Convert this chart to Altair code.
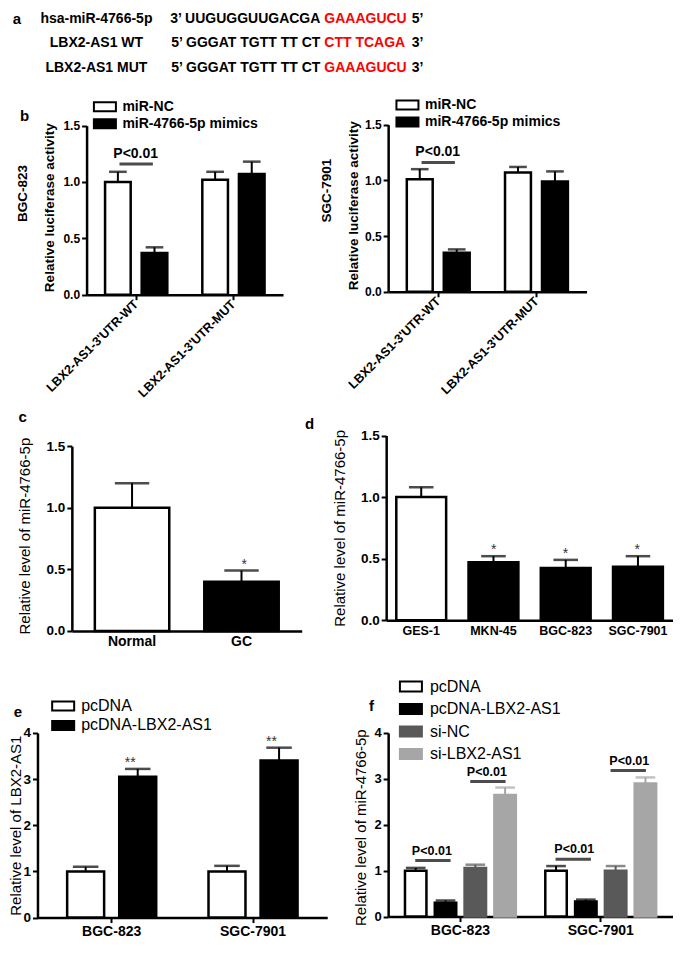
import altair as alt
import pandas as pd

FONT = "Liberation Sans"
W, H = 665, 938
SX = W / 677.0
SY = 928 / 955.0


def cx(px):
    return (px - 3) * SX


def cy(py):
    return (py - 2) * SY


# ---------------- data ----------------
a_names = ["hsa-miR-4766-5p", "LBX2-AS1  WT", "LBX2-AS1  MUT"]
a_black = ["3\u2019 UUGUGGUUGACGA", "5\u2019 GGGAT TGTT TT CT", "5\u2019 GGGAT TGTT TT CT"]
a_red = ["GAAAGUCU", "CTT TCAGA", "GAAAGUCU"]
a_end = ["5\u2019", "3\u2019", "3\u2019"]
a_rows = [0, 1, 2]

b_groups = ["LBX2-AS1-3'UTR-WT", "LBX2-AS1-3'UTR-MUT"]
b_conds = ["miR-NC", "miR-4766-5p mimics"]
b_bgc_mean = [1.00, 0.37, 1.02, 1.07]
b_bgc_sem = [0.09, 0.05, 0.07, 0.11]
b_sgc_mean = [1.01, 0.35, 1.07, 0.99]
b_sgc_sem = [0.09, 0.03, 0.05, 0.09]
b_sig_group = ["LBX2-AS1-3'UTR-WT"]
b_bgc_sig_y = [1.16]
b_sgc_sig_y = [1.16]
sig_text = "P<0.01"

c_cats = ["Normal", "GC"]
c_mean = [1.00, 0.40]
c_sem = [0.20, 0.09]
c_marks = ["", "*"]

d_cats = ["GES-1", "MKN-45", "BGC-823", "SGC-7901"]
d_mean = [1.00, 0.47, 0.425, 0.435]
d_sem = [0.08, 0.05, 0.065, 0.085]
d_marks = ["", "*", "*", "*"]

ef_groups = ["BGC-823", "SGC-7901"]
e_conds = ["pcDNA", "pcDNA-LBX2-AS1"]
e_mean = [1.00, 3.05, 1.00, 3.40]
e_sem = [0.10, 0.17, 0.12, 0.28]
e_marks = ["", "**", "", "**"]

f_conds = ["pcDNA", "pcDNA-LBX2-AS1", "si-NC", "si-LBX2-AS1"]
f_mean = [1.00, 0.30, 1.06, 2.65, 1.00, 0.33, 1.00, 2.90]
f_sem = [0.06, 0.05, 0.07, 0.16, 0.10, 0.04, 0.10, 0.13]
f_sig_left_y = [1.22, 1.25]
f_sig_right_y = [2.94, 3.18]


def grouped_df(groups, conds, mean, sem, marks=None):
    rows = []
    k = 0
    for g in groups:
        for c in conds:
            rows.append({"group": g, "cond": c, "mean": mean[k],
                         "upper": mean[k] + sem[k],
                         "mark": marks[k] if marks else ""})
            k += 1
    return pd.DataFrame(rows)


def simple_df(cats, mean, sem, marks):
    return pd.DataFrame({"cat": cats, "mean": mean,
                         "upper": [m + s for m, s in zip(mean, sem)],
                         "mark": marks})


def y_axis(axis_x, ticks, fmt, title, title_x, title_y, tfs, tfw, lfs):
    return alt.Axis(orient="left", offset=-cx(axis_x), values=ticks, format=fmt,
                    title=title, titleX=cx(title_x) - cx(axis_x), titleY=cy(title_y),
                    titleAngle=270, titleAlign="center", titleBaseline="middle",
                    titleFontSize=tfs, titleFontWeight=tfw, labelFontSize=lfs)


def x_axis(axis_y, lfs, ticks=True, angle=0, align="center", baseline="top", pad=3):
    return alt.Axis(orient="bottom", offset=cy(axis_y) - H, title=None, ticks=ticks,
                    labelAngle=angle, labelAlign=align, labelBaseline=baseline,
                    labelFontSize=lfs, labelPadding=pad)


def box_legend(lx, ly, half_w, half_h, size, lfs, lfw, loff, rpad):
    path = "M-%.3f,-%.3fH%.3fV%.3fH-%.3fZ" % (half_w, half_h, half_w, half_h, half_w)
    return alt.Legend(orient="none", legendX=cx(lx), legendY=cy(ly), title=None,
                      symbolType=path, symbolSize=size, symbolStrokeWidth=2,
                      labelFont=FONT, labelFontSize=lfs, labelFontWeight=lfw,
                      labelColor="black", labelOffset=loff, rowPadding=rpad, padding=0)


def grouped_panel(df, groups, conds, xr, pi, po, opi, ymax, yr, yaxis, xaxis,
                  fill_range, legend, cap, stroke_range=None):
    """Every layer repeats the same explicit scales, so independent scales coincide."""
    def xs():
        return alt.Scale(domain=groups, range=xr, paddingInner=pi, paddingOuter=po)

    def ys():
        return alt.Scale(domain=[0, ymax], range=yr, nice=False, zero=True)

    def X(ax=None):
        return alt.X("group:N", scale=xs(), sort=groups, axis=ax)

    def XO():
        return alt.XOffset("cond:N", scale=alt.Scale(domain=conds, paddingInner=opi,
                                                      paddingOuter=0), sort=conds)

    def Y(field, ax=None):
        return alt.Y(field + ":Q", scale=ys(), axis=ax)

    # text marks sit at group centre + offset-band start: shift them onto the bar centre
    step = (xr[1] - xr[0]) / (len(groups) - pi + 2 * po)
    bw = step * (1 - pi)
    bw_o = bw / (len(conds) - opi) * (1 - opi)
    text_dx = (bw_o - bw) / 2

    base = alt.Chart(df)
    enc = dict(x=X(xaxis), xOffset=XO(), y=Y("mean", yaxis),
               fill=alt.Fill("cond:N", scale=alt.Scale(domain=conds, range=fill_range),
                             sort=conds, legend=legend))
    if stroke_range:
        enc["stroke"] = alt.Stroke("cond:N", scale=alt.Scale(domain=conds, range=stroke_range),
                                   sort=conds, legend=legend)
        bar = base.mark_bar(strokeWidth=2.5).encode(**enc)

        def ecol():
            return {"color": alt.Color("cond:N", scale=alt.Scale(domain=conds, range=stroke_range),
                                       sort=conds, legend=None)}
        rule = base.mark_rule(strokeWidth=2)
        tick = base.mark_tick(thickness=2.5, size=cap, orient="horizontal")
    else:
        bar = base.mark_bar(stroke="black", strokeWidth=2.5).encode(**enc)

        def ecol():
            return {}
        rule = base.mark_rule(strokeWidth=2, color="black")
        tick = base.mark_tick(thickness=2.5, size=cap, orient="horizontal", color="black")
    rule = rule.encode(x=X(), xOffset=XO(), y=Y("mean"), y2="upper:Q", **ecol())
    tick = tick.encode(x=X(), xOffset=XO(), y=Y("upper"), **ecol())
    star = base.mark_text(baseline="alphabetic", dy=-2, dx=text_dx, fontSize=14,
                          color="#333", font=FONT).encode(
        x=X(), xOffset=XO(), y=Y("upper"), text="mark:N")
    return [bar, rule, tick, star], X, Y


def simple_panel(df, cats, xr, pi, po, ymax, yr, yaxis, xaxis, fill_range, cap):
    def X(ax=None):
        return alt.X("cat:N", scale=alt.Scale(domain=cats, range=xr, paddingInner=pi,
                                              paddingOuter=po), sort=cats, axis=ax)

    def Y(field, ax=None):
        return alt.Y(field + ":Q", scale=alt.Scale(domain=[0, ymax], range=yr, nice=False,
                                                   zero=True), axis=ax)

    base = alt.Chart(df)
    bar = base.mark_bar(stroke="black", strokeWidth=2.5).encode(
        x=X(xaxis), y=Y("mean", yaxis),
        fill=alt.Fill("cat:N", scale=alt.Scale(domain=cats, range=fill_range), sort=cats,
                      legend=None))
    rule = base.mark_rule(strokeWidth=2, color="black").encode(
        x=X(), y=Y("mean"), y2="upper:Q")
    tick = base.mark_tick(thickness=2.5, size=cap, orient="horizontal", color="black").encode(
        x=X(), y=Y("upper"))
    star = base.mark_text(baseline="alphabetic", dy=-2, fontSize=14, color="#333",
                          font=FONT).encode(x=X(), y=Y("upper"), text="mark:N")
    return [bar, rule, tick, star]


def label(text, x, y, size=15, weight="bold", angle=0, color="black"):
    return alt.Chart(pd.DataFrame({"t": [text]})).mark_text(
        font=FONT, fontSize=size, fontWeight=weight, angle=angle, align="center",
        baseline="middle", color=color).encode(
        x=alt.value(cx(x)), y=alt.value(cy(y)), text="t:N")


layers = []

# ---------------- panel a ----------------
a_df = pd.DataFrame({"row": a_rows, "name": a_names, "black": a_black,
                     "red": a_red, "end": a_end})


def a_y():
    return alt.Y("row:Q", scale=alt.Scale(domain=[0, 2], range=[cy(13), cy(64)]), axis=None)


a_base = alt.Chart(a_df)
a_txt = dict(font=FONT, fontSize=14, fontWeight="bold", baseline="middle")
layers += [
    a_base.mark_text(align="center", color="black", **a_txt).encode(
        x=alt.value(cx(93)), y=a_y(), text="name:N"),
    a_base.mark_text(align="right", color="black", **a_txt).encode(
        x=alt.value(cx(321)), y=a_y(), text="black:N"),
    a_base.mark_text(align="left", color="#ff0000", **a_txt).encode(
        x=alt.value(cx(325)), y=a_y(), text="red:N"),
    a_base.mark_text(align="left", color="black", **a_txt).encode(
        x=alt.value(cx(414)), y=a_y(), text="end:N"),
]


# ---------------- panel b ----------------
def b_panel(mean, sem, sig_y, axis_x, x_end, y0, y1, title_x, leg_x, leg_y):
    df = grouped_df(b_groups, b_conds, mean, sem)
    yaxis = y_axis(axis_x, [0, 0.5, 1.0, 1.5], ".1f", "Relative luciferase activity",
                   title_x, (y0 + y1) / 2 - 3, 13.5, "bold", 12)
    xaxis = x_axis(y0, 12.5, angle=-45, align="right", baseline="middle", pad=2)
    legend = box_legend(leg_x, leg_y, 1.467, 0.6, 225, 14, "bold", 9, 0)
    out, X, Y = grouped_panel(df, b_groups, b_conds, [cx(axis_x), cx(x_end)],
                              0.36, 0.19, 0.3, 1.5, [cy(y0), cy(y1)],
                              yaxis, xaxis, ["white", "black"], legend, 18 * SX)
    sdf = pd.DataFrame({"group": b_sig_group, "y": sig_y, "t": [sig_text]})
    out.append(alt.Chart(sdf).mark_tick(thickness=3, size=34 * SX, orient="horizontal",
                                        color="black").encode(x=X(), y=Y("y")))
    out.append(alt.Chart(sdf).mark_text(font=FONT, fontSize=14, fontWeight="bold",
                                        baseline="bottom", dy=-3, color="black").encode(
        x=X(), y=Y("y"), text="t:N"))
    return out


layers += b_panel(b_bgc_mean, b_bgc_sem, b_bgc_sig_y, 83, 283, 297, 123, 45, 93, 95)
layers += b_panel(b_sgc_mean, b_sgc_sem, b_sgc_sig_y, 390, 592, 294, 122, 355, 401, 93)

# ---------------- panel c, d ----------------
layers += simple_panel(
    simple_df(c_cats, c_mean, c_sem, c_marks), c_cats, [cx(68), cx(302)], 0.32, 0.21,
    1.5, [cy(643), cy(453)],
    y_axis(68, [0, 0.5, 1.0, 1.5], ".1f", "Relative level of miR-4766-5p", 20, 545,
           15, "normal", 13.5),
    x_axis(643, 14, ticks=False, pad=4), ["white", "black"], 35 * SX)

layers += simple_panel(
    simple_df(d_cats, d_mean, d_sem, d_marks), d_cats, [cx(388), cx(680)], 0.31, 0.14,
    1.5, [cy(632), cy(442)],
    y_axis(388, [0, 0.5, 1.0, 1.5], ".1f", "Relative level of miR-4766-5p", 340, 537,
           15, "normal", 13.5),
    x_axis(632, 12.5, ticks=False, pad=4), ["white", "black", "black", "black"], 25 * SX)

# ---------------- panel e ----------------
e_layers, e_X, e_Y = grouped_panel(
    grouped_df(ef_groups, e_conds, e_mean, e_sem, e_marks), ef_groups, e_conds,
    [cx(33), cx(328)], 0.37, 0.21, 0.29, 4, [cy(938), cy(748)],
    y_axis(33, [0, 1, 2, 3, 4], "d", "Relative level of LBX2-AS1", 11, 843, 15,
           "normal", 13.5),
    x_axis(938, 14, pad=2),
    ["white", "black"], box_legend(50, 711, 1.375, 0.5625, 256, 16, "normal", 9, 1.5),
    26 * SX)
layers += e_layers

# ---------------- panel f ----------------
f_layers, f_X, f_Y = grouped_panel(
    grouped_df(ef_groups, f_conds, f_mean, f_sem), ef_groups, f_conds,
    [cx(390), cx(680)], 0.21, 0.12, 0.28, 4, [cy(937), cy(748)],
    y_axis(390, [0, 1, 2, 3, 4], "d", "Relative level of miR-4766-5p", 362, 845, 15,
           "normal", 13),
    x_axis(937, 14, pad=2),
    ["white", "black", "#595959", "#a6a6a6"],
    box_legend(403, 690, 1.222, 0.556, 324, 16, "normal", 9, 2.5),
    20 * SX, stroke_range=["black", "black", "#595959", "#a6a6a6"])
layers += f_layers

f_sig = pd.DataFrame({"group": ef_groups, "ly": f_sig_left_y, "ry": f_sig_right_y,
                      "t": [sig_text, sig_text]})
for col, off in (("ly", -28), ("ry", 28)):
    layers.append(alt.Chart(f_sig).mark_tick(
        thickness=3, size=36 * SX, orient="horizontal", color="black", xOffset=off * SX).encode(
        x=f_X(), y=f_Y(col)))
    layers.append(alt.Chart(f_sig).mark_text(
        font=FONT, fontSize=12.5, fontWeight="bold", baseline="bottom", dy=-3,
        dx=off * SX, color="black").encode(x=f_X(), y=f_Y(col), text="t:N"))

# ---------------- letters / side labels ----------------
layers += [
    label("a", 12, 13), label("b", 20, 113), label("c", 18, 423), label("d", 310, 430),
    label("e", 13, 726), label("f", 373, 720),
    label("BGC-823", 18, 193, size=13.5, angle=270),
    label("SGC-7901", 328, 190, size=13.5, angle=270),
]

chart = alt.layer(*layers).resolve_scale(
    x="independent", y="independent", xOffset="independent",
    fill="independent", stroke="independent", color="independent"
).resolve_axis(
    x="independent", y="independent"
).resolve_legend(
    fill="independent", stroke="independent", color="independent"
).properties(
    width=W, height=H, autosize=alt.AutoSizeParams(type="none"), padding=0
).configure_axis(
    domainColor="black", domainWidth=2.5, tickColor="black", tickWidth=2, tickSize=5,
    labelColor="black", labelFont=FONT, labelFontWeight="bold", titleFont=FONT,
    titleColor="black", grid=False, labelPadding=2
).configure_view(stroke=None)

chart.save("out.html", embed_options={"renderer": "svg", "actions": False})
